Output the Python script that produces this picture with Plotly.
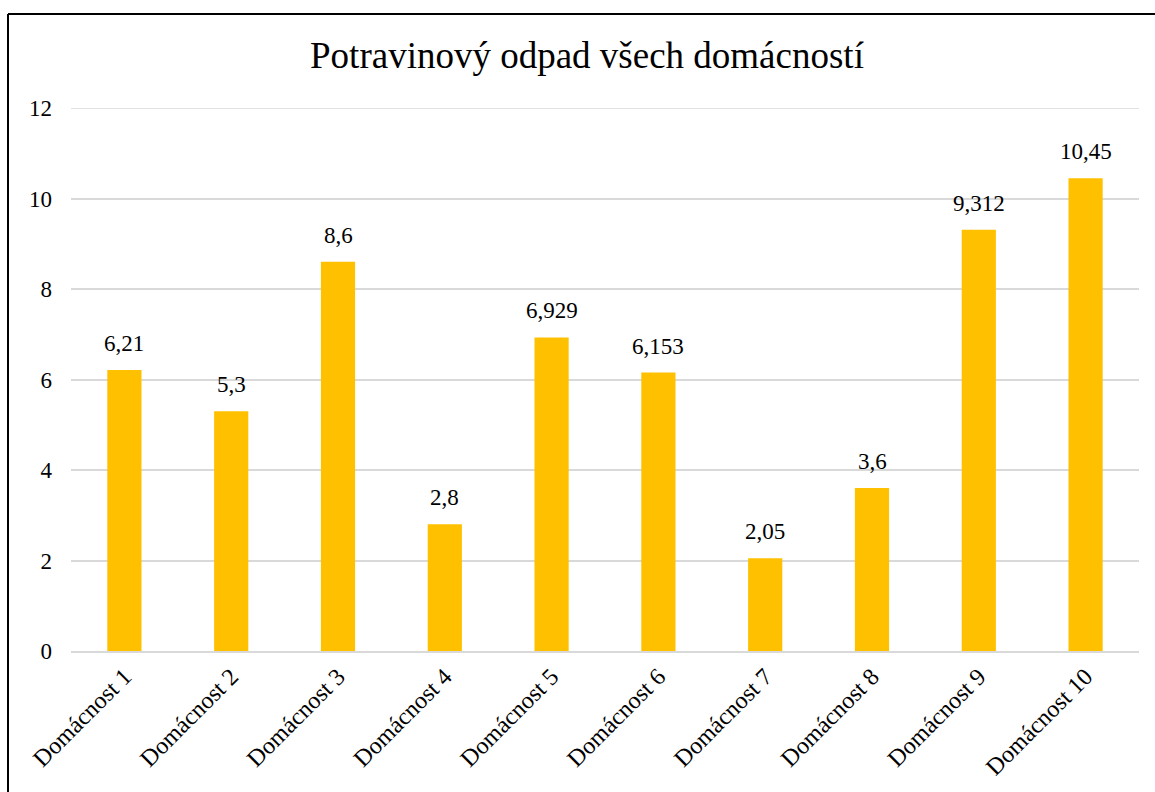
import plotly.graph_objects as go

categories = ["Domácnost 1", "Domácnost 2", "Domácnost 3", "Domácnost 4", "Domácnost 5",
              "Domácnost 6", "Domácnost 7", "Domácnost 8", "Domácnost 9", "Domácnost 10"]
values = [6.21, 5.3, 8.6, 2.8, 6.929, 6.153, 2.05, 3.6, 9.312, 10.45]
labels = [f"{v:g}".replace(".", ",") for v in values]
y_ticks = [0, 2, 4, 6, 8, 10, 12]

W, H = 1155, 792
L, R, T, B = 71, 16, 108, 141
pw, ph = W - L - R, H - T - B
FONT = "Liberation Serif"
GRID = "#d9d9d9"

fig = go.Figure(go.Bar(
    x=categories, y=values,
    marker=dict(color="#FFC000", line=dict(width=0)),
    width=0.32, cliponaxis=False, hoverinfo="skip",
))

annotations = [
    dict(x=c, y=v, text=t, showarrow=False, xanchor="center", yanchor="bottom",
         yshift=12, font=dict(family=FONT, size=23, color="#000000"))
    for c, v, t in zip(categories, values, labels)
]

fig.update_layout(
    width=W, height=H,
    margin=dict(l=L, r=R, t=T, b=B, autoexpand=False),
    paper_bgcolor="white", plot_bgcolor="white",
    font=dict(family=FONT, color="#000000"),
    title=dict(text="Potravinový odpad všech domácností", x=587 / W, xanchor="center",
               y=1 - 55 / H, yanchor="middle",
               font=dict(family=FONT, size=37, color="#000000")),
    showlegend=False,
    xaxis=dict(tickangle=-45, tickfont=dict(size=24), showgrid=False,
               showline=True, linecolor=GRID, linewidth=2, ticks=""),
    yaxis=dict(range=[0, 12], tickvals=y_ticks, ticktext=[str(t) for t in y_ticks],
               tickfont=dict(size=23), gridcolor=GRID, gridwidth=1.5,
               zeroline=False, showline=False, ticklabelstandoff=18),
    annotations=annotations,
    shapes=[
        dict(type="line", xref="paper", yref="y", x0=0, x1=1, y0=y_ticks[-1], y1=y_ticks[-1],
             line=dict(color=GRID, width=1.5), layer="below"),
        dict(type="line", xref="paper", yref="paper",
             x0=(8 - L) / pw, x1=(8 - L) / pw, y0=(H - B - 14) / ph, y1=-0.5,
             line=dict(color="#000000", width=2)),
        dict(type="line", xref="paper", yref="paper",
             x0=(8 - L) / pw, x1=1.2, y0=(H - B - 14) / ph, y1=(H - B - 14) / ph,
             line=dict(color="#000000", width=2)),
    ],
)

fig.write_html("out.html", config={"displayModeBar": False},
               post_script="document.body.style.margin='0';")
